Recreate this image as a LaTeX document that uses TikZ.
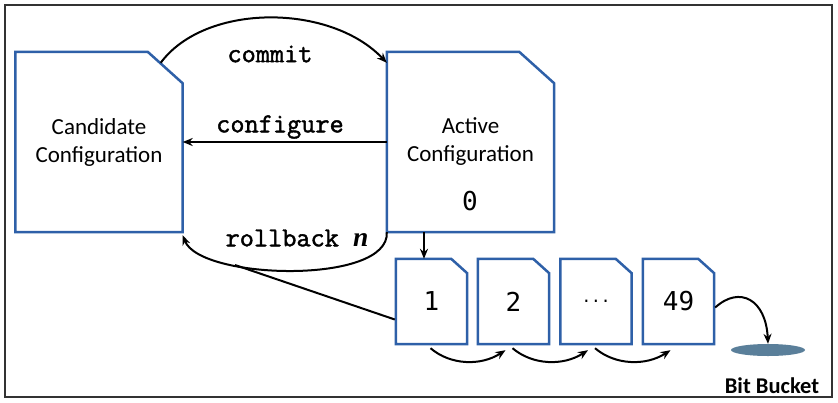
\documentclass[tikz,border=0pt]{standalone}
\usepackage{fontspec}
\setmainfont{Carlito}
\newfontfamily\numfont{DejaVu Sans Mono}
\newfontfamily\cmdfont[FakeBold=1.6]{Latin Modern Mono}
\newfontfamily\nfont{Liberation Serif}
\usetikzlibrary{calc,shapes.geometric,arrows.meta}
\definecolor{docblue}{HTML}{2E60A8}
\definecolor{bucketblue}{HTML}{5A7F9A}
\newcommand\foldoutline[2]{%
  \draw[docblue,line width=2.5pt,line join=miter]
    (#1.north west) -- ($(#1.north east)+(-#2,0)$) -- ($(#1.north east)+(0,#2*0.9)$)
    -- (#1.south east) -- (#1.south west) -- cycle;}
\begin{document}
\begin{tikzpicture}[x=1pt,y=-1pt,
  bigdoc/.style={minimum width=167pt,minimum height=180pt,inner sep=0pt,align=center,
    font=\fontsize{23}{28}\selectfont},
  smalldoc/.style={minimum width=71pt,minimum height=85pt,inner sep=0pt,
    font=\numfont\fontsize{26}{30}\selectfont},
  cmd/.style={font=\cmdfont\fontsize{27.5}{30}\selectfont,inner sep=0pt},
  arr/.style={-{Stealth[length=10pt,width=8pt]},line width=2pt,black}]
\useasboundingbox (0,0) rectangle (838,402);
\draw[line width=1.6pt,black!80] (5,5) rectangle (832,397);
% documents
\node[bigdoc] (cand) at (99,142) {Candidate\\Configuration};
\node[bigdoc] (act) at (470.5,142) {Active\\Configuration};
\node[font=\numfont\fontsize{26}{30}\selectfont,inner sep=0pt] (n0) at (470,201) {0};
\node[smalldoc] (d1) at (431.5,301.5) {1};
\node[smalldoc] (d2) at (513.5,301.5) {2};
\node[smalldoc,font=\numfont\fontsize{16}{20}\selectfont] (d3) at (596,301.5) {...};
\node[smalldoc] (d4) at (678.5,301.5) {49};
\foldoutline{cand}{35}
\foldoutline{act}{35}
\foldoutline{d1}{16}
\foldoutline{d2}{16}
\foldoutline{d3}{16}
\foldoutline{d4}{16}
% bucket
\node[ellipse,fill=bucketblue,minimum width=74pt,minimum height=12pt,inner sep=0pt] (bucket) at (768,350) {};
\node[font=\bfseries\fontsize{22.5}{26}\selectfont,inner sep=0pt] (bblabel) at (772,386) {Bit Bucket};
% labels
\node[cmd] (lcommit) at (270,54) {commit};
\node[cmd] (lconf) at (280,127) {configure};
\node[cmd] (lroll) at (297,238) {rollback {\nfont\bfseries\itshape n}};
% arrows
\draw[arr] ($(cand.north east)+(-22,11)$) .. controls (205,3) and (330,3) .. ($(act.north west)+(0,11)$);
\draw[arr] (act.west) -- (cand.east);
\draw[arr] (act.south west) .. controls (390,285) and (200,280) .. ($(cand.south east)+(0,3)$);
\coordinate (merge) at (235,265);
\draw[line width=2pt] ($(d1.west)+(-1,18)$) -- (merge);
\coordinate (a1) at (424,232);
\draw[arr] (a1) -- (a1 |- d1.north);
\draw[arr] ($(d1.south)+(-1,4)$) .. controls +(20,17) and +(-25,16) .. ($(d2.south)+(-8,6)$);
\draw[arr] ($(d2.south)+(-1,4)$) .. controls +(20,17) and +(-25,16) .. ($(d3.south)+(-8,6)$);
\draw[arr] ($(d3.south)+(-1,4)$) .. controls +(20,17) and +(-25,16) .. ($(d4.south)+(-8,6)$);
\draw[arr] ($(d4.east)+(1,6)$) .. controls (740,285) and (766,300) .. (bucket.north);
\end{tikzpicture}
\end{document}
